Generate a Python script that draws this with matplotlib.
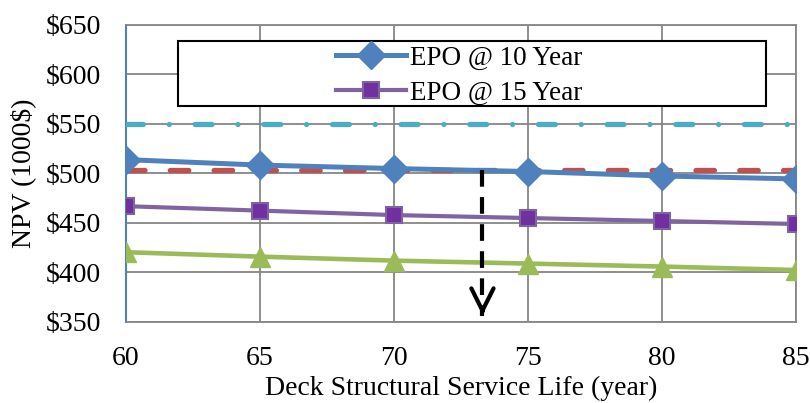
import matplotlib
matplotlib.use('Agg')
from matplotlib import pyplot as plt
from matplotlib.patches import Rectangle

plt.rcParams['font.family'] = ['Liberation Serif', 'DejaVu Serif']

life = [60, 65, 70, 75, 80, 85]
epo10 = [514, 508.5, 505, 502, 497.5, 494.5]
epo15 = [467, 462.5, 458, 455, 452, 449]
epo_other = [420.5, 416, 412, 409, 406, 402.5]
level_red = 503.5
level_cyan = 550
cross_life = 73.3
yticks = [350, 400, 450, 500, 550, 600, 650]

fig = plt.figure(figsize=(8.1, 4.03), dpi=100)
ax = fig.add_axes([0.1556, 0.201, 0.8271, 0.737])

ax.plot(life, [level_cyan] * len(life), color='#4BACC6', lw=3.8,
        dashes=(3.2, 4.9, 0.01, 4.9), dash_capstyle='round', zorder=3)
ax.plot(life, [level_red] * len(life), color='#C0504D', lw=3.8,
        dashes=(3.5, 4.8), dash_capstyle='round', zorder=4)
l1, = ax.plot(life, epo10, color='#4F81BD', lw=3.6, marker='D', ms=14,
              mfc='#4F81BD', mec='#4F81BD', zorder=5)
l2, = ax.plot(life, epo15, color='#8064A2', lw=3.0, marker='s', ms=11,
              mfc='#7030A0', mec='#8064A2', mew=1.5, zorder=5)
ax.plot(life, epo_other, color='#9BBB59', lw=3.3, marker='^', ms=15,
        mfc='#9BBB59', mec='#9BBB59', zorder=5)

# dashed drop line at the crossing point, open arrowhead at the bottom
ax.plot([cross_life, cross_life], [level_red, 356], color='black', lw=3,
        dashes=(4, 2.5), zorder=6)
ax.annotate('', xy=(cross_life, 354), xytext=(cross_life, 366),
            arrowprops=dict(arrowstyle='->,head_length=0.8,head_width=0.4',
                            color='black', lw=3, mutation_scale=20),
            zorder=6)

ax.set_xlim(60, 85)
ax.set_ylim(350, 650)
ax.set_xticks(life)
ax.set_yticks(yticks)
ax.set_yticklabels(['$' + str(v) for v in yticks])
ax.grid(True, color='#868686', lw=1.3)
ax.set_axisbelow(True)
for s in ['top', 'right', 'bottom']:
    ax.spines[s].set_color('#868686')
    ax.spines[s].set_linewidth(1.3)
ax.spines['left'].set_color('#4F81BD')
ax.spines['left'].set_linewidth(1.5)
ax.tick_params(length=0, labelsize=20)
ax.tick_params(axis='y', pad=18)
ax.tick_params(axis='x', pad=17)
ax.set_xlabel('Deck Structural Service Life (year)', fontsize=20, labelpad=4)
ax.set_ylabel('NPV (1000$)', fontsize=20, labelpad=7)

# legend box
ax.add_patch(Rectangle((0.0776, 0.727), 0.877, 0.219, transform=ax.transAxes,
                       fill=True, facecolor='white', edgecolor='black', lw=1.5, zorder=7))
ax.legend([l1, l2], ['EPO @ 10 Year', 'EPO @ 15 Year'], loc='upper left',
          bbox_to_anchor=(0.297, 0.966), frameon=False, fontsize=19.5,
          handlelength=2.6, handletextpad=0.15, labelspacing=0.35,
          borderaxespad=0).set_zorder(8)

plt.savefig('out.png', dpi=100)
